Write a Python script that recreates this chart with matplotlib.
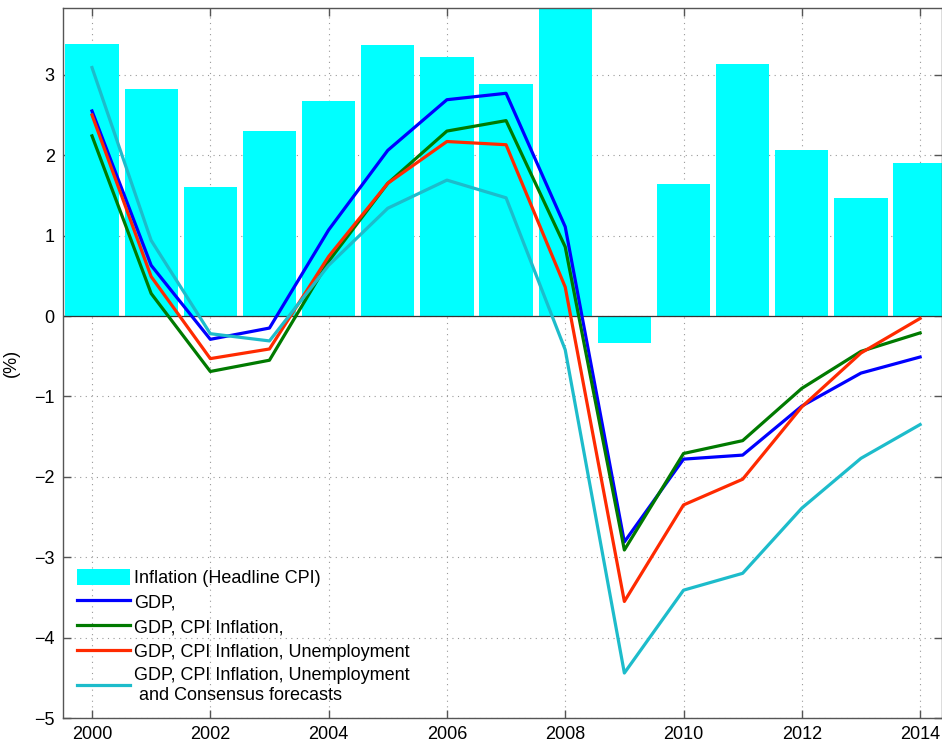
import numpy as np
import matplotlib.pyplot as plt

plt.rcParams['font.family'] = ['Liberation Sans', 'DejaVu Sans']

years = np.arange(2000, 2015)

# headline CPI inflation (bars)
inflation = [3.38, 2.82, 1.60, 2.30, 2.67, 3.37, 3.22, 2.88, 3.90, -0.33,
             1.64, 3.14, 2.07, 1.47, 1.90]

gdp = [2.55, 0.63, -0.29, -0.15, 1.07, 2.06, 2.69, 2.77, 1.11, -2.81,
       -1.78, -1.73, -1.12, -0.71, -0.51]
gdp_cpi = [2.24, 0.28, -0.69, -0.55, 0.68, 1.65, 2.30, 2.43, 0.86, -2.91,
           -1.71, -1.55, -0.90, -0.44, -0.21]
gdp_cpi_unemp = [2.50, 0.49, -0.53, -0.41, 0.74, 1.65, 2.17, 2.13, 0.36, -3.55,
                 -2.35, -2.03, -1.13, -0.46, -0.03]
gdp_cpi_unemp_cons = [3.09, 0.94, -0.22, -0.31, 0.63, 1.34, 1.69, 1.47, -0.42, -4.44,
                      -3.41, -3.20, -2.39, -1.77, -1.35]

labels = ['Inflation (Headline CPI)', 'GDP,', 'GDP, CPI Inflation,',
          'GDP, CPI Inflation, Unemployment',
          'GDP, CPI Inflation, Unemployment\n and Consensus forecasts']

fig = plt.figure(figsize=(9.42, 7.45), dpi=100)
ax = fig.add_axes([0.0669, 0.0362, 0.9331, 0.9530])

bars = ax.bar(years, inflation, width=0.9, color='#00FFFF', label=labels[0], zorder=1)
ax.axhline(0, color='#333333', lw=0.9, zorder=2)

lw = 2.3
l1, = ax.plot(years, gdp, color='#0000FF', lw=lw, label=labels[1], zorder=3)
l2, = ax.plot(years, gdp_cpi, color='#007A00', lw=lw, label=labels[2], zorder=3)
l3, = ax.plot(years, gdp_cpi_unemp, color='#FF2A00', lw=lw, label=labels[3], zorder=3)
l4, = ax.plot(years, gdp_cpi_unemp_cons, color='#1DBCCB', lw=lw, label=labels[4], zorder=3)

ax.set_xlim(1999.51, 2014.37)
ax.set_ylim(-5, 3.83)
ax.set_xticks(np.arange(2000, 2015, 2))
ax.set_yticks(np.arange(-5, 4, 1))
ax.set_yticklabels([str(v).replace('-', '\u2212') for v in range(-5, 4)])

ax.grid(True, linestyle=(0, (1, 4)), color='#999999', lw=0.8)
ax.set_axisbelow(True)
ax.tick_params(direction='in', top=True, right=True, labelsize=13, length=6,
               width=1, color='#555555', pad=6)
for s in ax.spines.values():
    s.set_color('#555555')
    s.set_linewidth(1.0)

ax.set_ylabel('(%)', fontsize=13, labelpad=10)

ax.legend([bars, l1, l2, l3, l4], labels, loc='lower left',
          bbox_to_anchor=(0.0, 0.0), frameon=False,
          fontsize=13, handlelength=2.9, handleheight=1.0, handletextpad=0.25,
          labelspacing=0.35, borderaxespad=0.4)

fig.savefig('out.png', dpi=100)
